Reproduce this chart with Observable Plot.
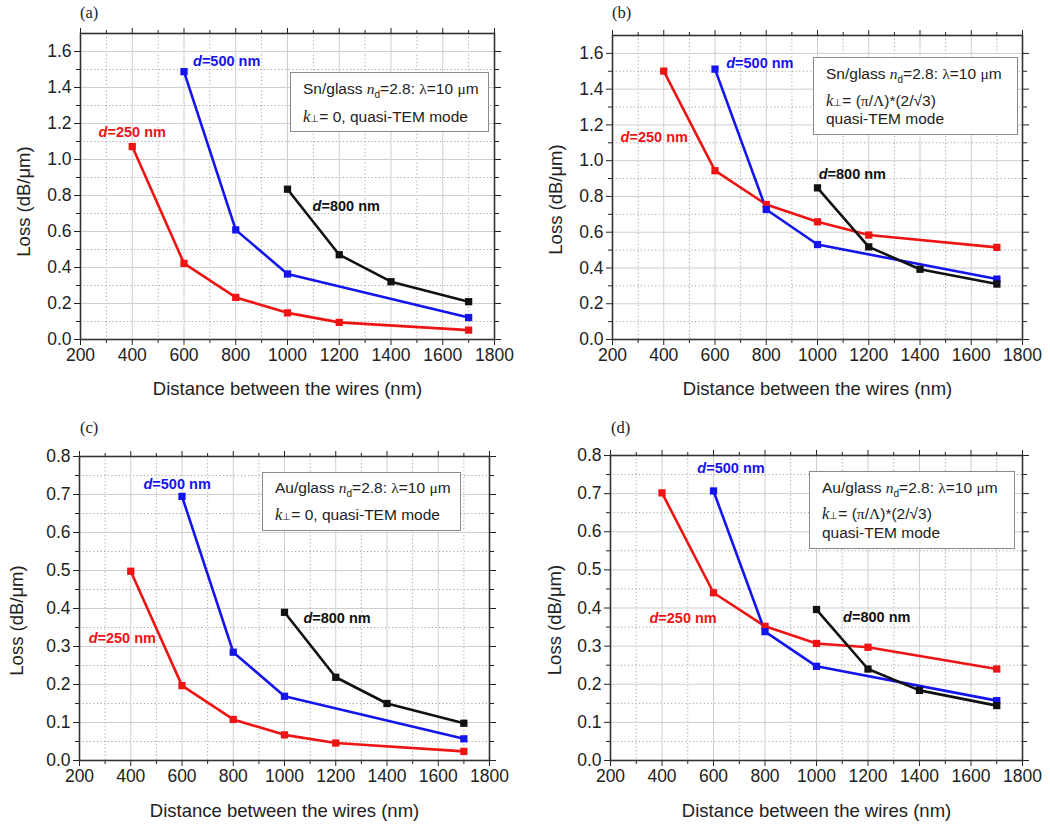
<!DOCTYPE html>
<html>
<head>
<meta charset="utf-8">
<script src="https://cdn.jsdelivr.net/npm/d3@7"></script>
<script src="https://cdn.jsdelivr.net/npm/@observablehq/plot@0.6"></script>
<style>
  html, body { margin: 0; padding: 0; background: #fff; }
  #page { position: relative; width: 1050px; height: 825px; font-family: "Liberation Sans", Arial, sans-serif; }
  .panel { position: absolute; }
  .plabel { position: absolute; font-family: "Liberation Serif", "Times New Roman", serif; font-size: 16.5px; color: #222; }
  .box { position: absolute; border: 1px solid #8a8a8a; background: #fff; font-size: 15.5px; color: #222; }
  .box .ln { position: absolute; left: 12px; white-space: nowrap; line-height: 18px; }
  .ser { font-family: "Liberation Serif", "Times New Roman", serif; }
  .it { font-style: italic; }
  .sub { font-size: 10px; position: relative; top: 4px; }
  .perp { font-size: 10px; }
</style>
</head>
<body>
<div id="page"></div>
<script>
// ---------- data ----------
const dist250 = [400, 600, 800, 1000, 1200, 1700];
const dist500 = [600, 800, 1000, 1700];
const dist800 = [1000, 1200, 1400, 1700];

// (a) Sn/glass, k⊥ = 0
const snK0_250 = [1.072, 0.423, 0.234, 0.148, 0.095, 0.052];
const snK0_500 = [1.488, 0.609, 0.364, 0.122];
const snK0_800 = [0.835, 0.471, 0.321, 0.210];
// (b) Sn/glass, k⊥ = (π/Λ)*(2/√3)
const snK1_250 = [1.501, 0.944, 0.755, 0.658, 0.584, 0.515];
const snK1_500 = [1.512, 0.727, 0.531, 0.338];
const snK1_800 = [0.848, 0.518, 0.393, 0.310];
// (c) Au/glass, k⊥ = 0
const auK0_250 = [0.498, 0.197, 0.108, 0.0675, 0.046, 0.024];
const auK0_500 = [0.695, 0.285, 0.169, 0.057];
const auK0_800 = [0.390, 0.219, 0.150, 0.098];
// (d) Au/glass, k⊥ = (π/Λ)*(2/√3)
const auK1_250 = [0.702, 0.440, 0.352, 0.307, 0.297, 0.240];
const auK1_500 = [0.707, 0.338, 0.247, 0.157];
const auK1_800 = [0.396, 0.240, 0.184, 0.144];

const seriesNames = ["d=250 nm", "d=500 nm", "d=800 nm"];
const seriesColors = ["#ee1414", "#1414ee", "#111111"];

const xMajor = [200, 400, 600, 800, 1000, 1200, 1400, 1600, 1800];
const xMinor = [300, 500, 700, 900, 1100, 1300, 1500, 1700];
const ySnMajor = [0, 0.2, 0.4, 0.6, 0.8, 1.0, 1.2, 1.4, 1.6];
const ySnMinor = [0.1, 0.3, 0.5, 0.7, 0.9, 1.1, 1.3, 1.5];
const yAuMajor = [0, 0.1, 0.2, 0.3, 0.4, 0.5, 0.6, 0.7, 0.8];
const yAuMinor = [0.05, 0.15, 0.25, 0.35, 0.45, 0.55, 0.65, 0.75];

// label anchor points (data units) for each panel: [250, 500, 800]
const labelX_a = [400, 765, 1227], labelY_a = [1.15, 1.543, 0.742];
const labelX_b = [363, 775, 1136], labelY_b = [1.132, 1.546, 0.925];
const labelX_c = [367, 581, 1205], labelY_c = [0.321, 0.728, 0.373];
const labelX_d = [482, 668, 1234], labelY_d = [0.372, 0.766, 0.375];

// ---------- helpers ----------
function table(v250, v500, v800) {
  const rows = [];
  [[dist250, v250], [dist500, v500], [dist800, v800]].forEach(([xs, ys], i) => {
    xs.forEach((x, j) => rows.push({series: seriesNames[i], x, y: ys[j]}));
  });
  return rows;
}
function labels(xs, ys) {
  return seriesNames.map((s, i) => ({series: s, x: xs[i], y: ys[i]}));
}

function panel(cfg) {
  const data = table(...cfg.values);
  const lab = labels(cfg.lx, cfg.ly);
  const blank = () => "";
  const plot = Plot.plot({
    width: 525,
    height: cfg.height,
    marginLeft: cfg.m[0], marginRight: cfg.m[1], marginTop: cfg.m[2], marginBottom: cfg.m[3],
    style: {fontFamily: "'Liberation Sans', Arial, sans-serif", fontSize: "17.5px", color: "#222", background: "transparent"},
    x: {domain: [200, 1800]},
    y: {domain: cfg.yDomain},
    color: {domain: seriesNames, range: seriesColors},
    marks: [
      Plot.gridX(xMinor, {stroke: "#9a9a9a", strokeOpacity: 0.9, strokeDasharray: "1.2,2.4"}),
      Plot.gridY(cfg.yMinor, {stroke: "#9a9a9a", strokeOpacity: 0.9, strokeDasharray: "1.2,2.4"}),
      Plot.gridX(xMajor, {stroke: "#cfcfcf", strokeOpacity: 1}),
      Plot.gridY(cfg.yMajor, {stroke: "#cfcfcf", strokeOpacity: 1}),
      Plot.axisX(xMajor, {anchor: "bottom", tickSize: 6, tickPadding: 3, tickFormat: "d",
        label: "Distance between the wires (nm)", labelAnchor: "center", labelOffset: cfg.xLabelOffset, labelArrow: "none"}),
      Plot.axisX(xMinor, {anchor: "bottom", tickSize: 4, tickFormat: blank, label: null}),
      Plot.axisX(xMajor, {anchor: "top", tickSize: 6, tickFormat: blank, label: null}),
      Plot.axisX(xMinor, {anchor: "top", tickSize: 4, tickFormat: blank, label: null}),
      Plot.axisY(cfg.yMajor, {anchor: "left", tickSize: 6, tickPadding: 3, tickFormat: d3.format(".1f"),
        label: "Loss (dB/μm)", labelAnchor: "center", labelOffset: cfg.yLabelOffset, labelArrow: "none"}),
      Plot.axisY(cfg.yMinor, {anchor: "left", tickSize: 4, tickFormat: blank, label: null}),
      Plot.axisY(cfg.yMajor, {anchor: "right", tickSize: 6, tickFormat: blank, label: null}),
      Plot.axisY(cfg.yMinor, {anchor: "right", tickSize: 4, tickFormat: blank, label: null}),
      Plot.frame({stroke: "#333", strokeWidth: 1.6}),
      Plot.line(data, {x: "x", y: "y", z: "series", stroke: "series", strokeWidth: 2.6}),
      Plot.dot(data, {x: "x", y: "y", fill: "series", symbol: "square", r: 4.1}),
      Plot.text(lab, {x: "x", y: "y", text: "series", fill: "series", fontWeight: "bold", fontSize: 14.5, className: "dlabel"})
    ]
  });
  // italicise the "d" of the series labels
  plot.querySelectorAll(".dlabel text").forEach(t => {
    const s = t.textContent;
    t.textContent = "";
    const a = document.createElementNS("http://www.w3.org/2000/svg", "tspan");
    a.setAttribute("font-style", "italic");
    a.textContent = s[0];
    const b = document.createElementNS("http://www.w3.org/2000/svg", "tspan");
    b.textContent = s.slice(1);
    t.appendChild(a); t.appendChild(b);
  });
  plot.querySelectorAll('[aria-label$="-axis label"]').forEach(g => {
    g.style.fontSize = "18.5px";
    g.querySelectorAll("text").forEach(t => { t.style.fontSize = "18.5px"; });
  });
  plot.querySelectorAll('[aria-label="y-axis label"] text').forEach(t => t.setAttribute("dx", -cfg.yLabelShift));
  return plot;
}

const page = document.getElementById("page");
function place(el, left, top) {
  const d = document.createElement("div");
  d.className = "panel";
  d.style.left = left + "px"; d.style.top = top + "px";
  d.appendChild(el);
  page.appendChild(d);
}

place(panel({values: [snK0_250, snK0_500, snK0_800], lx: labelX_a, ly: labelY_a, height: 412,
  m: [80, 31, 33, 73], yDomain: [0, 1.7], yMajor: ySnMajor, yMinor: ySnMinor,
  yLabelOffset: 64, yLabelShift: 15, xLabelOffset: 55}), 0, 0);
place(panel({values: [snK1_250, snK1_500, snK1_800], lx: labelX_b, ly: labelY_b, height: 412,
  m: [87, 28, 35, 73], yDomain: [0, 1.7], yMajor: ySnMajor, yMinor: ySnMinor,
  yLabelOffset: 64, yLabelShift: 12, xLabelOffset: 55}), 525, 0);
place(panel({values: [auK0_250, auK0_500, auK0_800], lx: labelX_c, ly: labelY_c, height: 413,
  m: [79, 36, 44, 65], yDomain: [0, 0.8], yMajor: yAuMajor, yMinor: yAuMinor,
  yLabelOffset: 70, yLabelShift: 12, xLabelOffset: 56}), 0, 412);
place(panel({values: [auK1_250, auK1_500, auK1_800], lx: labelX_d, ly: labelY_d, height: 413,
  m: [85, 28, 43, 65], yDomain: [0, 0.8], yMajor: yAuMajor, yMinor: yAuMinor,
  yLabelOffset: 63, yLabelShift: 12, xLabelOffset: 56}), 525, 412);

// panel letters
[["(a)", 80, 3], ["(b)", 612, 3], ["(c)", 80, 418], ["(d)", 611, 418]].forEach(([t, x, y]) => {
  const d = document.createElement("div");
  d.className = "plabel"; d.textContent = t;
  d.style.left = x + "px"; d.style.top = y + "px";
  page.appendChild(d);
});

// annotation boxes
const lineSn = '<span>Sn/glass <span class="ser it">n</span><span class="sub">d</span>=2.8: <span class="ser">λ</span>=10 <span class="ser">μ</span>m</span>';
const lineAu = '<span>Au/glass <span class="ser it">n</span><span class="sub">d</span>=2.8: <span class="ser">λ</span>=10 <span class="ser">μ</span>m</span>';
const lineK0 = '<span><span class="ser it" style="font-size:16.5px">k</span><span class="perp">⊥</span>= 0, quasi-TEM mode</span>';
const lineK1 = '<span><span class="ser it" style="font-size:16.5px">k</span><span class="perp">⊥</span>= (<span class="ser">π</span>/<span class="ser">Λ</span>)*(2/√3)</span>';
const lineQ = '<span>quasi-TEM mode</span>';
const boxes = [
  {x: 290, y: 72, w: 197, h: 58, lines: [[lineSn, 17], [lineK0, 45]]},
  {x: 813, y: 57, w: 203, h: 76, lines: [[lineSn, 17], [lineK1, 44], [lineQ, 62]]},
  {x: 262, y: 472, w: 197, h: 57, lines: [[lineAu, 16], [lineK0, 43]]},
  {x: 809, y: 471, w: 204, h: 76, lines: [[lineAu, 17], [lineK1, 43], [lineQ, 62]]}
];
boxes.forEach(b => {
  const d = document.createElement("div");
  d.className = "box";
  d.style.left = b.x + "px"; d.style.top = b.y + "px";
  d.style.width = b.w + "px"; d.style.height = b.h + "px";
  b.lines.forEach(([html, cy]) => {
    const l = document.createElement("div");
    l.className = "ln"; l.innerHTML = html;
    l.style.top = (cy - 10) + "px";
    d.appendChild(l);
  });
  page.appendChild(d);
});
</script>
</body>
</html>
